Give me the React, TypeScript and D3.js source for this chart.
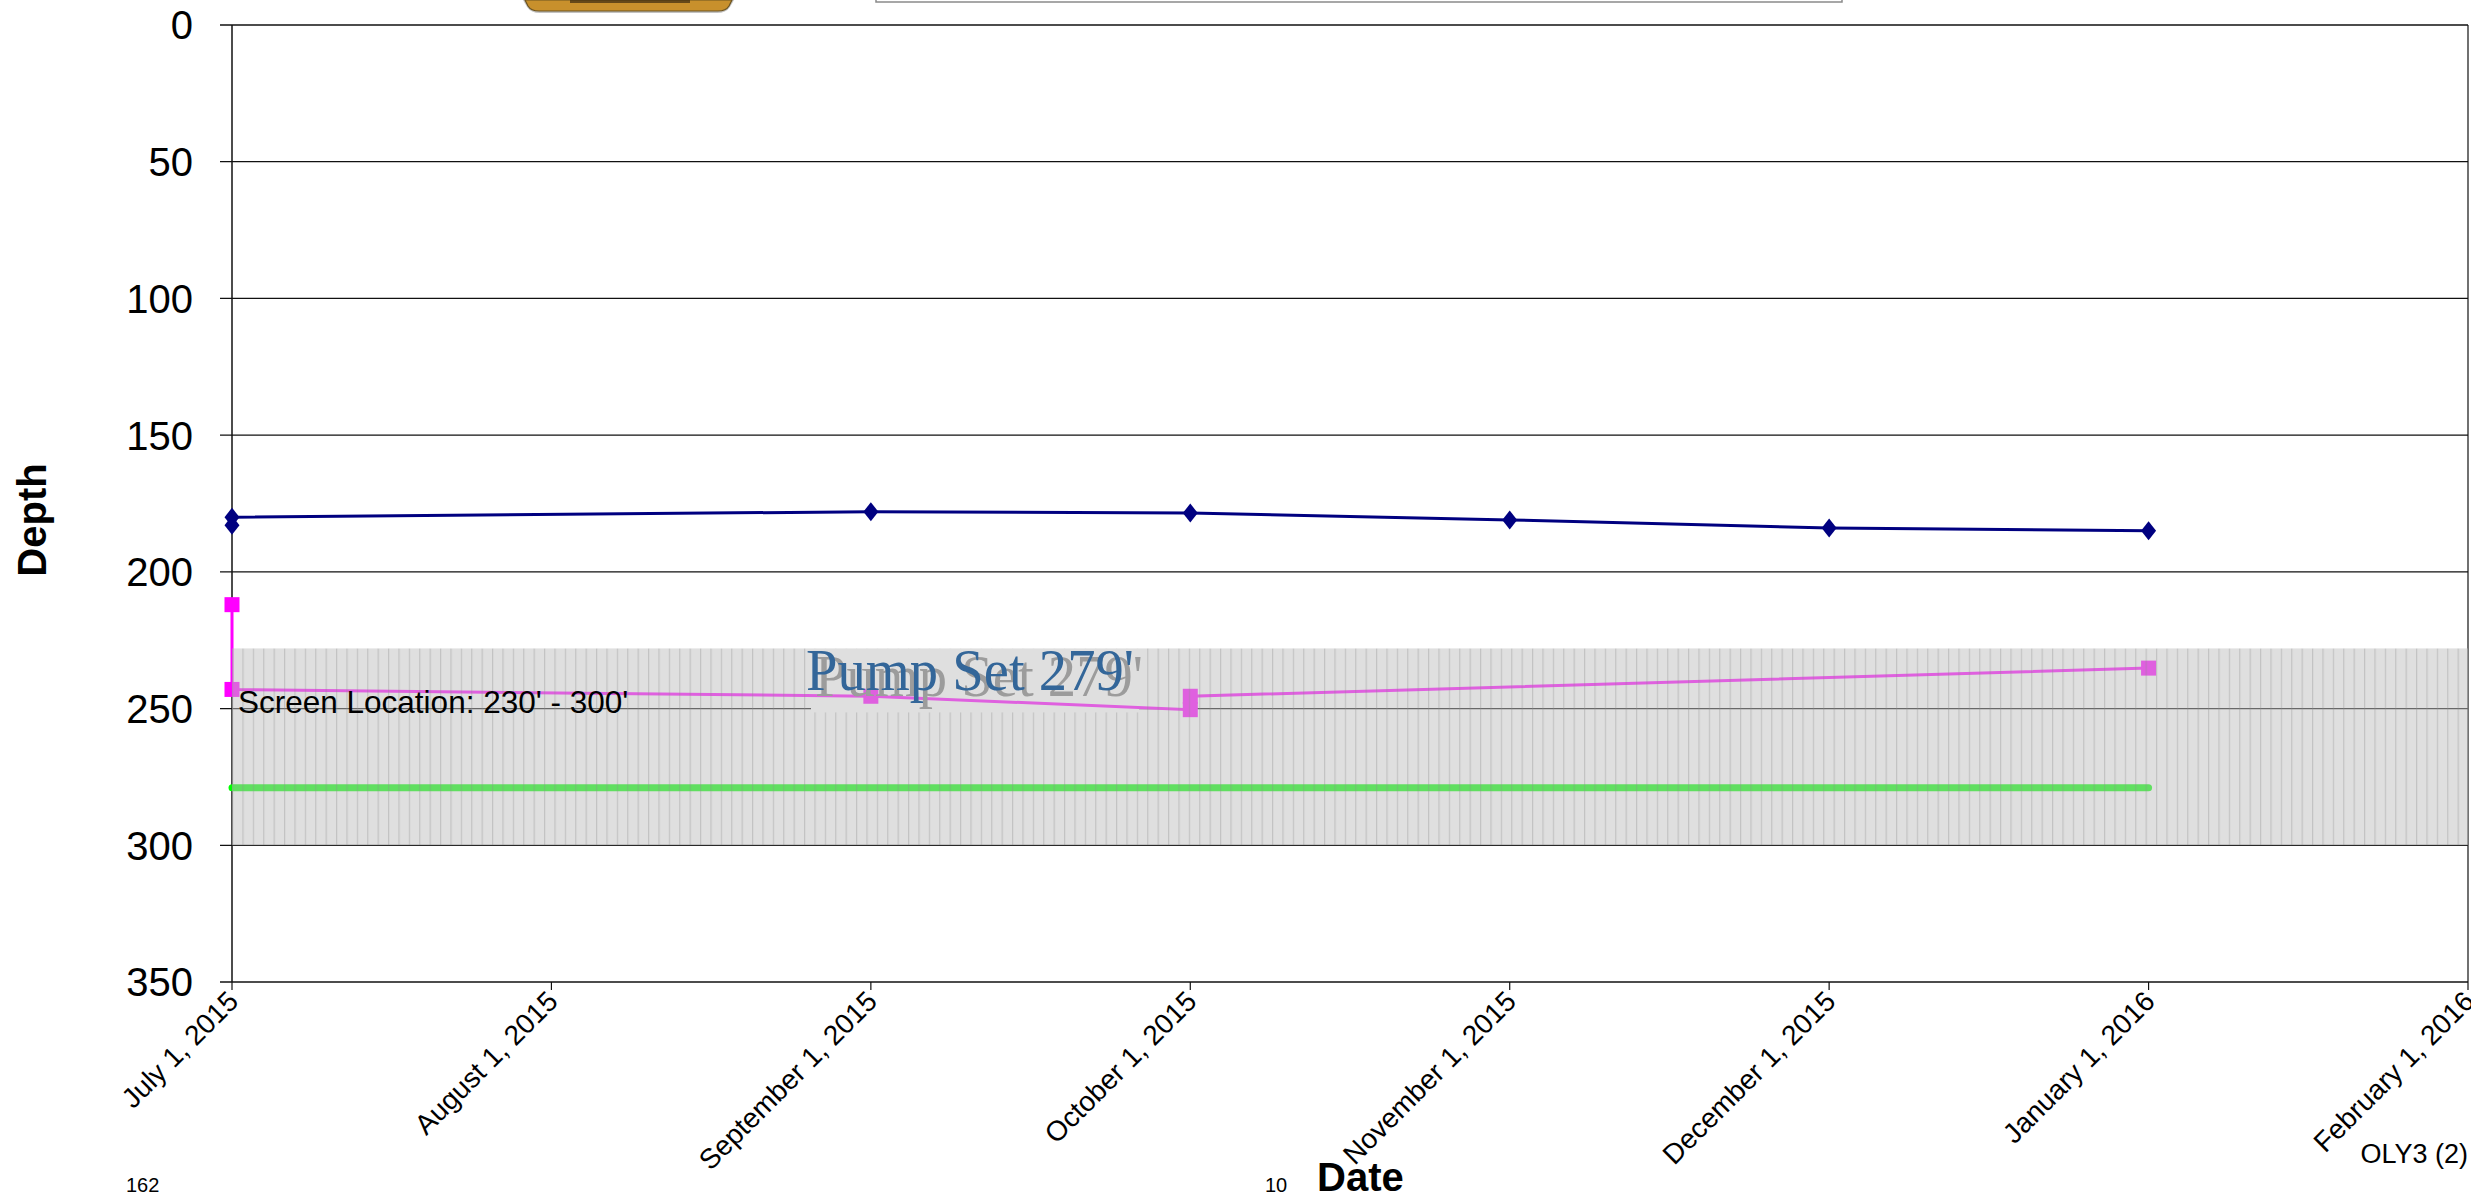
import React from 'react';
import * as d3 from 'd3';

const monthLabels = [
  'July 1, 2015', 'August 1, 2015', 'September 1, 2015', 'October 1, 2015',
  'November 1, 2015', 'December 1, 2015', 'January 1, 2016', 'February 1, 2016',
];
const depthTicks = [0, 50, 100, 150, 200, 250, 300, 350];

const waterDates = ['July 1, 2015', 'July 1, 2015', 'September 1, 2015', 'October 1, 2015', 'November 1, 2015', 'December 1, 2015', 'January 1, 2016'];
const waterDepth = [183, 180, 178, 178.5, 181, 184, 185];

const pumpingDates = ['July 1, 2015', 'July 1, 2015', 'September 1, 2015', 'October 1, 2015', 'October 1, 2015', 'January 1, 2016'];
const pumpingDepth = [212, 243, 245.5, 250.4, 245.5, 235.2];

const pumpSetDates = ['July 1, 2015', 'January 1, 2016'];
const pumpSetDepth = [279, 279];

const screenRange = [228, 300];
const daysInRange = 215;

const W = 2471;
const H = 1195;
const X0 = 232;
const X1 = 2468;
const Y0 = 25;
const Y1 = 982;
const SANS = '"Liberation Sans", Arial, Helvetica, sans-serif';
const SERIF = '"Liberation Serif", "Times New Roman", serif';

export default function App() {
  const x = d3.scalePoint<string>().domain(monthLabels).range([X0, X1]);
  const y = d3.scaleLinear().domain([0, 350]).range([Y0, Y1]);

  const line = d3
    .line<[string, number]>()
    .x((d) => x(d[0]) as number)
    .y((d) => y(d[1]));

  const water: [string, number][] = waterDates.map((d, i) => [d, waterDepth[i]]);
  const pumping: [string, number][] = pumpingDates.map((d, i) => [d, pumpingDepth[i]]);
  const pumpSet: [string, number][] = pumpSetDates.map((d, i) => [d, pumpSetDepth[i]]);

  const bandTop = y(screenRange[0]);
  const bandBot = y(screenRange[1]);
  const stripeW = (X1 - X0) / daysInRange;

  // text box for "Pump Set 279'"
  const tb = { x: 811, y: bandTop, w: 328, h: 64 };

  return (
    <svg
      width={W}
      height={H}
      viewBox={`0 0 ${W} ${H}`}
      style={{ position: 'absolute', left: 0, top: 0, display: 'block' }}
    >
      <defs>
        <pattern id="stripes" patternUnits="userSpaceOnUse" x={X0} y={0} width={stripeW} height={10}>
          <line x1={0.6} y1={0} x2={0.6} y2={10} stroke="#8c8c8c" strokeOpacity={0.35} strokeWidth={1.2} />
        </pattern>
        <mask id="bandMask" maskUnits="userSpaceOnUse" x={0} y={0} width={W} height={H}>
          <rect x={X0} y={bandTop} width={X1 - X0} height={bandBot - bandTop} fill="#fff" />
          <rect x={tb.x} y={tb.y} width={tb.w} height={tb.h} fill="#000" />
        </mask>
      </defs>
      <rect x={0} y={0} width={W} height={H} fill="#fff" />

      {/* top decorations (cropped) */}
      <path d="M523,0 L527,7 Q531,13 540,13 L717,13 Q726,13 730,7 L734,0 Z" fill="#9a9a9a" opacity={0.6} />
      <path d="M525,0 L528,6 Q531,11 539,11 L718,11 Q726,11 729,6 L732,0 Z" fill="#c8902c" stroke="#6d5420" strokeWidth={1.2} />
      <rect x={570} y={0} width={120} height={3} fill="#3a2a10" opacity={0.7} />
      <rect x={876} y={-20} width={966} height={22} fill="#fff" stroke="#8a8a8a" strokeWidth={1.5} />

      {/* gridlines and y ticks */}
      {depthTicks.map((t) => (
        <line key={`g${t}`} x1={X0 - 12} x2={X1} y1={y(t)} y2={y(t)} stroke="#111" strokeWidth={1.3} />
      ))}
      {/* pump-set text box backdrop */}
      <rect x={tb.x} y={tb.y} width={tb.w} height={tb.h} fill="#fff" />

      {/* axes */}
      <line x1={X0} x2={X0} y1={Y0} y2={Y1} stroke="#111" strokeWidth={1.5} />
      <line x1={X1} x2={X1} y1={Y0} y2={Y1} stroke="#111" strokeWidth={1.2} />
      {monthLabels.map((m) => (
        <line key={`xt${m}`} x1={x(m)} x2={x(m)} y1={Y1} y2={Y1 + 8} stroke="#111" strokeWidth={1.2} />
      ))}

      {/* series */}
      <path d={line(pumpSet) || ''} fill="none" stroke="#00ff00" strokeWidth={7} strokeLinecap="round" />
      <path d={line(pumping) || ''} fill="none" stroke="#ff00ff" strokeWidth={3} />
      {pumping.map((d, i) => (
        <rect key={`p${i}`} x={(x(d[0]) as number) - 7.5} y={y(d[1]) - 7.5} width={15} height={15} fill="#ff00ff" />
      ))}
      <path d={line(water) || ''} fill="none" stroke="#000080" strokeWidth={3} />
      {water.map((d, i) => {
        const cx = x(d[0]) as number;
        const cy = y(d[1]);
        return (
          <path
            key={`w${i}`}
            d={`M${cx},${cy - 9.5} L${cx + 7.5},${cy} L${cx},${cy + 9.5} L${cx - 7.5},${cy} Z`}
            fill="#000080"
          />
        );
      })}

      {/* screen band overlay */}
      <rect x={X0} y={bandTop} width={X1 - X0} height={bandBot - bandTop} fill="#c0c0c0" fillOpacity={0.5} />
      <rect x={X0} y={bandTop} width={X1 - X0} height={bandBot - bandTop} fill="url(#stripes)" mask="url(#bandMask)" />

      {/* annotations */}
      <text x={238} y={713} fontFamily={SANS} fontSize={31.5} fill="#000">
        Screen Location: 230' - 300'
      </text>
      <text x={815} y={696} fontFamily={SERIF} fontSize={60} fill="#9c9c9c" textLength={328} lengthAdjust="spacingAndGlyphs">
        Pump Set 279'
      </text>
      <text x={806} y={690} fontFamily={SERIF} fontSize={60} fill="#336699" textLength={328} lengthAdjust="spacingAndGlyphs">
        Pump Set 279'
      </text>

      {/* y tick labels */}
      {depthTicks.map((t) => (
        <text
          key={`yl${t}`}
          x={193}
          y={y(t)}
          dy="0.36em"
          textAnchor="end"
          fontFamily={SANS}
          fontSize={40}
          fill="#000"
        >
          {t}
        </text>
      ))}

      {/* x tick labels */}
      {monthLabels.map((m) => (
        <text
          key={`xl${m}`}
          transform={`translate(${(x(m) as number) + 8},${1003}) rotate(-45)`}
          textAnchor="end"
          fontFamily={SANS}
          fontSize={28}
          fill="#000"
        >
          {m}
        </text>
      ))}

      {/* axis titles */}
      <text transform="translate(46,520) rotate(-90)" textAnchor="middle" fontFamily={SANS} fontSize={40} fontWeight="bold" fill="#000">
        Depth
      </text>
      <text x={1317} y={1191} fontFamily={SANS} fontSize={40} fontWeight="bold" fill="#000">
        Date
      </text>

      {/* footer texts */}
      <text x={126} y={1192} fontFamily={SANS} fontSize={20} fill="#000">162</text>
      <text x={1265} y={1192} fontFamily={SANS} fontSize={20} fill="#000">10</text>
      <text x={2468} y={1163} textAnchor="end" fontFamily={SANS} fontSize={27} fill="#000">OLY3 (2)</text>
    </svg>
  );
}
